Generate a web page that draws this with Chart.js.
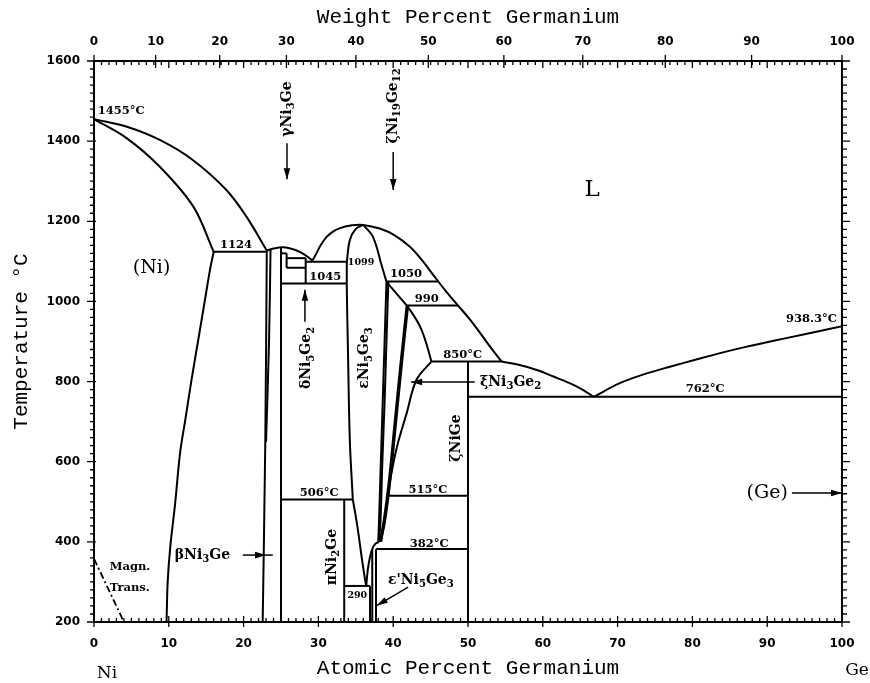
<!DOCTYPE html>
<html><head><meta charset="utf-8">
<script src="https://cdn.jsdelivr.net/npm/chart.js@4/dist/chart.umd.min.js"></script>
<style>html,body{margin:0;padding:0;background:#fff;overflow:hidden}canvas{display:block}</style>
</head><body>
<canvas id="c" width="870" height="683"></canvas>
<script>
// ---------- axis tick labels ----------
const atTicks = [0,10,20,30,40,50,60,70,80,90,100];      // atomic % Ge (bottom)
const wtTicks = [0,10,20,30,40,50,60,70,80,90,100];      // weight % Ge (top)
const tempTicks = [200,400,600,800,1000,1200,1400,1600]; // °C

// ---------- phase boundaries: [atomic % Ge, °C] ----------
const niLiquidus   = [[0,1455],[4.4,1436],[8.8,1403],[13.2,1353],[17.7,1278],[20.4,1211],[23.1,1127]];
const niSolidus    = [[0,1455],[4.4,1407],[8.8,1336],[13.3,1236],[16.0,1124]];
const niSolvus     = [[16.0,1124],[15.5,1078],[14.8,1000],[13.9,900],[13.0,800],[12.2,704],[11.5,621],[10.85,496],[10.2,388],[9.85,300],[9.7,200]];
const eut1124      = [[16.0,1124],[23.1,1124]];
const betaLeft     = [[23.1,1127],[22.9,650],[22.55,200]];
const betaRight    = [[23.6,1130],[23.4,900],[23.0,650]];
const gammaDome    = [[23.1,1127],[24.0,1132],[25.3,1135],[26.5,1131],[27.7,1122],[28.6,1111],[29.2,1102]];
const line25       = [[25,200],[25,1134]];
const gammaV       = [[25.75,1084],[25.75,1120]];
const gammaTop     = [[25.0,1120],[25.75,1120]];
const deltaTop     = [[25.75,1108],[28.3,1108]];
const deltaMid     = [[25.75,1084],[28.3,1084]];
const deltaV       = [[28.3,1045],[28.3,1108]];
const peri1045     = [[25.0,1045],[33.8,1045]];
const eut1099      = [[28.3,1099],[33.8,1099]];
const epsLiquidus  = [[29.2,1102],[29.6,1115],[30.3,1140],[31.1,1161],[32.0,1175],[32.9,1183],[34.5,1190],[36.0,1191],[38.2,1182],[40.2,1165],[42.2,1137],[43.85,1103],[45.6,1060],[47.2,1022],[48.7,989],[50.3,954],[51.9,914],[53.2,881],[54.5,850]];
const epsSolidusL  = [[36.0,1191],[35.0,1181],[34.2,1153],[33.8,1099]];
const epsSolvusL   = [[33.8,1099],[33.8,1028],[33.95,880],[34.2,654],[34.6,506]];
const epsLowL      = [[34.6,506],[35.2,440],[35.8,360],[36.2,310],[36.4,290]];
const epsLowR      = [[36.4,290],[36.6,330],[36.9,362],[37.2,382],[37.6,395],[38.1,400]];
const epsSolidusR  = [[36.0,1191],[37.3,1161],[38.5,1087],[39.1,1049]];
const zeta1        = [[39.1,1049],[38.85,900],[38.6,750],[38.35,600],[38.1,450],[38.0,400]];
const zeta2        = [[39.35,1049],[39.1,900],[38.85,750],[38.55,600],[38.3,450],[38.1,400]];
const peri1050     = [[39.1,1050],[46.0,1050]];
const link1050     = [[39.1,1049],[41.8,990]];
const peri990      = [[41.8,990],[48.7,990]];
const xiLeft1      = [[41.8,990],[41.0,850],[40.2,700],[39.4,550],[38.7,450],[38.2,400]];
const xiLeft2      = [[42.0,990],[41.2,850],[40.4,700],[39.6,550],[38.9,450],[38.3,400]];
const link990      = [[41.8,990],[42.7,966],[43.6,937],[44.4,897],[45.1,850]];
const peri850      = [[45.1,850],[54.5,850]];
const xiRight      = [[45.1,850],[43.1,804],[41.8,721],[40.5,637],[39.6,554],[39.35,515],[38.9,460],[38.4,400]];
const eut515       = [[39.35,515],[50,515]];
const eut382       = [[37.7,382],[50,382]];
const niGeLine     = [[50,200],[50,850]];
const niGeLiquidus = [[54.5,850],[56.5,843],[59.2,829],[61.5,812],[63.6,796],[65.3,780],[66.8,762]];
const geLiquidus   = [[66.8,762],[70.3,796],[73.5,818],[77.0,837],[80.5,855],[83.7,871],[87.0,886],[90.4,900],[95.0,918],[100,938.3]];
const eut762       = [[50,762],[100,762]];
const eut506       = [[25,506],[34.6,506]];
const piLine       = [[33.45,200],[33.45,506]];
const eut290       = [[33.45,290],[36.9,290]];
const line369      = [[36.9,200],[36.9,290]];
const epsPrimeL    = [[37.2,200],[37.2,382]];
const epsPrimeR    = [[37.7,200],[37.7,382]];
const magnTrans    = [[0,358],[4.0,200]];

const curves = [niLiquidus,niSolidus,niSolvus,betaLeft,betaRight,gammaDome,epsLiquidus,epsSolidusL,epsSolvusL,epsLowL,epsLowR,epsSolidusR,zeta1,zeta2,xiLeft1,xiLeft2,link990,xiRight,niGeLiquidus,geLiquidus];
const straights = [eut1124,line25,gammaV,gammaTop,deltaTop,deltaMid,deltaV,peri1045,eut1099,peri1050,link1050,peri990,peri850,eut515,eut382,niGeLine,eut762,eut506,piLine,eut290,line369,epsPrimeL,epsPrimeR];

// ---------- text labels (data coordinates) ----------
const textLabels = [
 {t:'1455°C', at:0.5, T:1474, s:'num', align:'left'},
 {t:'1124', at:19.0, T:1141, s:'num'},
 {t:'(Ni)', at:7.7, T:1083, s:'big'},
 {t:'L', at:66.6, T:1278, s:'L'},
 {t:'γNi_3Ge', at:25.8, T:1480, s:'phase', rot:true},
 {t:'ζNi_19Ge_12', at:40.0, T:1488, s:'phase', rot:true},
 {t:'1099', at:35.7, T:1098, s:'small'},
 {t:'1045', at:30.9, T:1061, s:'num'},
 {t:'1050', at:41.7, T:1068, s:'num'},
 {t:'990', at:44.5, T:1006, s:'num'},
 {t:'850°C', at:49.3, T:866, s:'num'},
 {t:'938.3°C', at:95.9, T:956, s:'num'},
 {t:'762°C', at:81.7, T:782, s:'num'},
 {t:'δNi_5Ge_2', at:28.4, T:859, s:'phase', rot:true},
 {t:'εNi_5Ge_3', at:36.2, T:859, s:'phase', rot:true},
 {t:'ξNi_3Ge_2', at:51.6, T:799, s:'phase', align:'left'},
 {t:'ζNiGe', at:48.5, T:659, s:'phase', rot:true},
 {t:'506°C', at:30.1, T:522, s:'num'},
 {t:'515°C', at:44.65, T:529, s:'num'},
 {t:'382°C', at:44.8, T:395, s:'num'},
 {t:'πNi_2Ge', at:31.8, T:362, s:'phase', rot:true},
 {t:'290', at:35.2, T:267, s:'small'},
 {t:"ε'Ni_5Ge_3", at:39.3, T:305, s:'phase', align:'left'},
 {t:'βNi_3Ge', at:10.8, T:367, s:'phase', align:'left'},
 {t:'Magn.', at:2.1, T:337, s:'tiny', align:'left'},
 {t:'Trans.', at:2.1, T:285, s:'tiny', align:'left'},
 {t:'(Ge)', at:90.0, T:522, s:'big'},
 {t:'Ni', at:1.74, T:72, s:'corner'},
 {t:'Ge', at:102.0, T:80, s:'corner'}
];
const arrows = [
 {from:[25.8,1395], to:[25.8,1305]},
 {from:[40.0,1373], to:[40.0,1278]},
 {from:[28.2,949],  to:[28.2,1029]},
 {from:[50.9,799],  to:[42.4,799]},
 {from:[42.0,287],  to:[37.8,241]},
 {from:[19.9,367],  to:[23.9,367], tip:[23.0,367]},
 {from:[93.3,522],  to:[100,522]}
];
const textStyles = {
 num:{size:11.5, weight:'bold'}, small:{size:9.5, weight:'bold'}, phase:{size:14, weight:'bold'},
 big:{size:19, weight:'normal'}, L:{size:23, weight:'normal'}, tiny:{size:11.5, weight:'bold'},
 corner:{size:17, weight:'normal'}
};
const FAM = 'DejaVu Serif';

// weight % -> atomic % conversion for the top axis
const M_NI = 58.69, M_GE = 72.63;
function wtToAt(w){ if (w<=0) return 0; if (w>=100) return 100; const g=w/M_GE, n=(100-w)/M_NI; return 100*g/(g+n); }

function drawRich(ctx, str, x, y, st, align, rot){
  const parts=[]; const re=/_(\d+)/g; let last=0, m;
  while((m=re.exec(str))){ if(m.index>last) parts.push([str.slice(last,m.index),false]); parts.push([m[1],true]); last=re.lastIndex; }
  if(last<str.length) parts.push([str.slice(last),false]);
  const mainF=`${st.weight} ${st.size}px "${FAM}"`, subF=`${st.weight} ${(st.size*0.72).toFixed(1)}px "${FAM}"`;
  let total=0; const ws=parts.map(([t,s])=>{ctx.font=s?subF:mainF; const w=ctx.measureText(t).width; total+=w; return w;});
  ctx.save(); ctx.translate(x,y); if(rot) ctx.rotate(-Math.PI/2);
  let sx = align==='left'?0:(align==='right'?-total:-total/2);
  ctx.textBaseline='middle'; ctx.textAlign='left'; ctx.fillStyle='#000';
  parts.forEach(([t,s],i)=>{ ctx.font=s?subF:mainF; ctx.fillText(t, sx, s? st.size*0.32:0); sx+=ws[i]; });
  ctx.restore();
}
function drawArrow(ctx,x1,y1,x2,y2,tx,ty){
  ctx.beginPath(); ctx.moveTo(x1,y1); ctx.lineTo(x2,y2); ctx.stroke();
  const a=Math.atan2(y2-y1,x2-x1), L=11, W=3.3, c=Math.cos(a), s=Math.sin(a);
  ctx.beginPath(); ctx.moveTo(tx,ty);
  ctx.lineTo(tx-L*c+W*s, ty-L*s-W*c); ctx.lineTo(tx-L*c-W*s, ty-L*s+W*c); ctx.closePath(); ctx.fill();
}

const decorPlugin = {
  id:'decor',
  afterDraw(chart){
    const {ctx, chartArea:{left,right,top,bottom}, scales:{x,y}} = chart;
    ctx.save();
    ctx.strokeStyle='#000'; ctx.fillStyle='#000';
    ctx.lineWidth=2; ctx.strokeRect(left,top,right-left,bottom-top);
    ctx.lineWidth=1.3; ctx.beginPath();
    for(let v=0; v<=100; v++){
      const px=x.getPixelForValue(v), major=v%10===0;
      ctx.moveTo(px, bottom+(major?5:0)); ctx.lineTo(px, bottom-(major?6:4));
      ctx.moveTo(px, top); ctx.lineTo(px, top+(major?7:4));
    }
    wtTicks.forEach(w=>{ const px=x.getPixelForValue(wtToAt(w)); ctx.moveTo(px, top-6); ctx.lineTo(px, top+7); });
    for(let T=200; T<=1600; T+=20){
      const py=y.getPixelForValue(T), major=T%200===0;
      ctx.moveTo(left+(major?2:0), py); ctx.lineTo(left-(major?7:4), py);
      ctx.moveTo(right, py); ctx.lineTo(right+(major?8:5), py);
    }
    ctx.stroke();
    ctx.lineWidth=1.5;
    arrows.forEach(a=>{
      const x1=x.getPixelForValue(a.from[0]), y1=y.getPixelForValue(a.from[1]);
      const x2=x.getPixelForValue(a.to[0]), y2=y.getPixelForValue(a.to[1]);
      const t=a.tip||a.to;
      drawArrow(ctx,x1,y1,x2,y2,x.getPixelForValue(t[0]),y.getPixelForValue(t[1]));
    });
    textLabels.forEach(l=>{
      drawRich(ctx,l.t,x.getPixelForValue(l.at),y.getPixelForValue(l.T),textStyles[l.s],l.align,l.rot);
    });
    ctx.restore();
  }
};

const toXY = pts => pts.map(([a,t])=>({x:a,y:t}));
const datasets = [];
curves.forEach(p=>datasets.push({data:toXY(p), tension:0.35}));
straights.forEach(p=>datasets.push({data:toXY(p), tension:0}));
datasets.push({data:toXY(magnTrans), tension:0, borderDash:[7,3,2,3], borderWidth:1.8});
datasets.forEach(d=>Object.assign(d,{showLine:true, pointRadius:0, borderColor:'#000', borderWidth:d.borderWidth||2, fill:false, borderJoinStyle:'round'}));

const tickFont = {family:'DejaVu Sans', weight:'bold', size:12};
const titleFont = {family:'Liberation Mono', size:21, lineHeight:1};
const plain = v => String(v);

new Chart(document.getElementById('c'), {
  type:'scatter',
  data:{datasets},
  plugins:[decorPlugin],
  options:{
    responsive:false, animation:false, devicePixelRatio:1,
    layout:{padding:0},
    plugins:{legend:{display:false}, tooltip:{enabled:false}, title:{display:false}},
    scales:{
      x:{type:'linear', position:'bottom', min:0, max:100,
         afterFit:s=>{s.height=61;},
         afterBuildTicks:s=>{s.ticks=atTicks.map(v=>({value:v}));},
         ticks:{autoSkip:false, maxRotation:0, font:tickFont, color:'#000', padding:15, callback:plain},
         grid:{display:false, drawTicks:false}, border:{display:false},
         title:{display:true, text:'Atomic Percent Germanium', font:titleFont, color:'#000', padding:{top:0,bottom:4.5}}},
      x2:{type:'linear', position:'top', min:0, max:100,
         afterFit:s=>{s.height=61;},
         afterBuildTicks:s=>{s.ticks=wtTicks.map(w=>({value:wtToAt(w)}));},
         ticks:{autoSkip:false, maxRotation:0, font:tickFont, color:'#000', padding:12,
                callback:(v,i)=>String(wtTicks[i])},
         grid:{display:false, drawTicks:false}, border:{display:false},
         title:{display:true, text:'Weight Percent Germanium', font:titleFont, color:'#000', padding:{top:6.5,bottom:0}}},
      y:{type:'linear', position:'left', min:200, max:1600,
         afterFit:s=>{s.width=94;},
         afterBuildTicks:s=>{s.ticks=tempTicks.map(v=>({value:v}));},
         ticks:{autoSkip:false, font:tickFont, color:'#000', padding:14, callback:plain},
         grid:{display:false, drawTicks:false}, border:{display:false},
         title:{display:true, text:'Temperature °C', font:titleFont, color:'#000', padding:{top:10.5,bottom:0}}},
      y2:{type:'linear', position:'right', min:200, max:1600,
         afterFit:s=>{s.width=28;},
         ticks:{display:false}, grid:{display:false, drawTicks:false}, border:{display:false}}
    }
  }
});
</script>
</body></html>
